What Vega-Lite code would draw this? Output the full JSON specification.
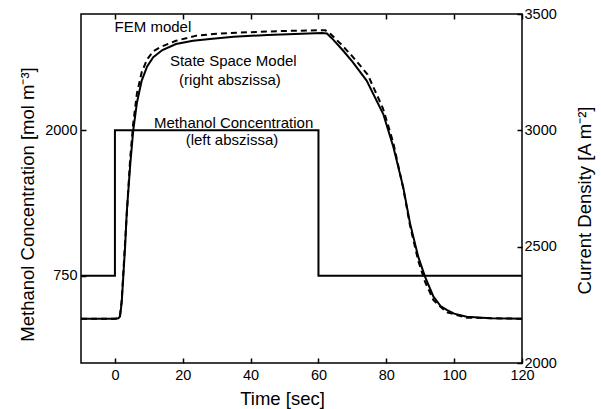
{
  "$schema": "https://vega.github.io/schema/vega-lite/v6.json",
  "width": 441,
  "height": 349,
  "autosize": {"type": "none"},
  "padding": {"left": 81, "top": 14, "right": 79, "bottom": 46},
  "background": "white",
  "config": {
    "font": "Liberation Sans",
    "view": {"stroke": "black", "strokeWidth": 1.5},
    "axis": {"domain": false, "grid": false, "tickColor": "black", "tickWidth": 1.5, "labelColor": "black", "titleColor": "black", "titleFontWeight": "normal", "labelFontSize": 14.5, "titleFontSize": 18.5, "labelFlush": false, "labelOverlap": false, "format": "d"}
  },
  "datasets": {
    "methanol": [
      {"t": -10, "c": 750}, {"t": 0, "c": 2000}, {"t": 60, "c": 750}, {"t": 120, "c": 750}
    ],
    "current": [
      {"model": "State Space", "t": -10, "j": 2190}, {"model": "State Space", "t": 0, "j": 2190}, {"model": "State Space", "t": 1, "j": 2192},
      {"model": "State Space", "t": 1.5, "j": 2200}, {"model": "State Space", "t": 2, "j": 2260}, {"model": "State Space", "t": 3, "j": 2500},
      {"model": "State Space", "t": 3.5, "j": 2650}, {"model": "State Space", "t": 4.5, "j": 2850}, {"model": "State Space", "t": 5.4, "j": 3000},
      {"model": "State Space", "t": 6.5, "j": 3120}, {"model": "State Space", "t": 7.9, "j": 3214}, {"model": "State Space", "t": 9.5, "j": 3275},
      {"model": "State Space", "t": 11.3, "j": 3314}, {"model": "State Space", "t": 14, "j": 3345}, {"model": "State Space", "t": 18, "j": 3371},
      {"model": "State Space", "t": 23, "j": 3385}, {"model": "State Space", "t": 28, "j": 3393}, {"model": "State Space", "t": 35, "j": 3402},
      {"model": "State Space", "t": 45, "j": 3410}, {"model": "State Space", "t": 55, "j": 3415}, {"model": "State Space", "t": 61, "j": 3418},
      {"model": "State Space", "t": 62.5, "j": 3416}, {"model": "State Space", "t": 64, "j": 3395}, {"model": "State Space", "t": 67.3, "j": 3342},
      {"model": "State Space", "t": 70, "j": 3295}, {"model": "State Space", "t": 74.2, "j": 3214}, {"model": "State Space", "t": 79.1, "j": 3070},
      {"model": "State Space", "t": 82.1, "j": 2927}, {"model": "State Space", "t": 85, "j": 2755}, {"model": "State Space", "t": 87, "j": 2600},
      {"model": "State Space", "t": 89.4, "j": 2457}, {"model": "State Space", "t": 91.4, "j": 2371}, {"model": "State Space", "t": 93.9, "j": 2285},
      {"model": "State Space", "t": 96, "j": 2245}, {"model": "State Space", "t": 97.8, "j": 2228}, {"model": "State Space", "t": 100, "j": 2212},
      {"model": "State Space", "t": 103.7, "j": 2199}, {"model": "State Space", "t": 110.6, "j": 2192}, {"model": "State Space", "t": 120, "j": 2190},
      {"model": "FEM", "t": -10, "j": 2190}, {"model": "FEM", "t": 0, "j": 2190}, {"model": "FEM", "t": 1, "j": 2192},
      {"model": "FEM", "t": 1.5, "j": 2205}, {"model": "FEM", "t": 2, "j": 2270}, {"model": "FEM", "t": 3, "j": 2520},
      {"model": "FEM", "t": 4.5, "j": 2880}, {"model": "FEM", "t": 5.4, "j": 3030}, {"model": "FEM", "t": 6.5, "j": 3160},
      {"model": "FEM", "t": 7.9, "j": 3250}, {"model": "FEM", "t": 9.5, "j": 3305}, {"model": "FEM", "t": 11.3, "j": 3340},
      {"model": "FEM", "t": 13.3, "j": 3357}, {"model": "FEM", "t": 18, "j": 3385}, {"model": "FEM", "t": 24, "j": 3407},
      {"model": "FEM", "t": 30, "j": 3415}, {"model": "FEM", "t": 40, "j": 3422}, {"model": "FEM", "t": 50, "j": 3427},
      {"model": "FEM", "t": 60, "j": 3430}, {"model": "FEM", "t": 62, "j": 3430}, {"model": "FEM", "t": 63.5, "j": 3415},
      {"model": "FEM", "t": 67, "j": 3365}, {"model": "FEM", "t": 70, "j": 3318}, {"model": "FEM", "t": 74.5, "j": 3240},
      {"model": "FEM", "t": 79, "j": 3095}, {"model": "FEM", "t": 82, "j": 2950}, {"model": "FEM", "t": 85, "j": 2750},
      {"model": "FEM", "t": 87, "j": 2590}, {"model": "FEM", "t": 89.4, "j": 2440}, {"model": "FEM", "t": 91.4, "j": 2350},
      {"model": "FEM", "t": 93.9, "j": 2270}, {"model": "FEM", "t": 97.8, "j": 2218}, {"model": "FEM", "t": 103.7, "j": 2195},
      {"model": "FEM", "t": 120, "j": 2190}
    ],
    "labels": [
      {"t": 11.2, "j": 3442, "text": "FEM model"},
      {"t": 34.9, "j": 3296, "text": "State Space Model"},
      {"t": 33.9, "j": 3217, "text": "(right abszissa)"},
      {"t": 35, "j": 3032, "text": "Methanol Concentration"},
      {"t": 34.5, "j": 2959, "text": "(left abszissa)"}
    ]
  },
  "layer": [
    {
      "data": {"name": "methanol"},
      "mark": {"type": "line", "interpolate": "step-after", "color": "black", "strokeWidth": 2},
      "encoding": {
        "x": {"field": "t", "type": "quantitative", "scale": {"domain": [-10, 120], "nice": false},
          "axis": {"values": [0, 20, 40, 60, 80, 100, 120], "ticks": false, "labelPadding": 5, "title": "Time [sec]", "titleX": 201, "titleY": 35, "titleBaseline": "middle"}},
        "y": {"field": "c", "type": "quantitative", "scale": {"domain": [0, 3000], "nice": false, "zero": false},
          "axis": {"values": [750, 2000], "ticks": false, "labelPadding": 4, "title": "Methanol Concentration [mol m⁻³]", "titleAngle": -90, "titleX": -54, "titleY": 190, "titleBaseline": "middle", "titleAlign": "center"}}
      }
    },
    {
      "data": {"name": "methanol"},
      "mark": {"type": "line", "opacity": 0},
      "encoding": {
        "x": {"field": "t", "type": "quantitative", "axis": {"orient": "bottom", "offset": -5, "tickSize": 5, "values": [0, 20, 40, 60, 80, 100, 120], "labels": false, "title": null}},
        "y": {"field": "c", "type": "quantitative", "scale": {"domain": [0, 3000], "nice": false, "zero": false},
          "axis": {"orient": "left", "offset": -5, "tickSize": 5, "values": [750, 2000], "labels": false, "title": null}}
      }
    },
    {
      "data": {"name": "current"},
      "mark": {"type": "line", "opacity": 0},
      "encoding": {
        "x": {"field": "t", "type": "quantitative", "axis": {"orient": "top", "offset": -5, "tickSize": 5, "values": [0, 20, 40, 60, 80, 100, 120], "labels": false, "title": null}},
        "y": {"field": "j", "type": "quantitative", "scale": {"domain": [2000, 3500], "nice": false, "zero": false},
          "axis": {"orient": "right", "offset": -5, "tickSize": 5, "values": [2000, 2500, 3000, 3500], "labels": false, "title": null}}
      }
    },
    {
      "layer": [
        {
          "data": {"name": "current"},
          "transform": [{"filter": "datum.model == 'FEM'"}],
          "mark": {"type": "line", "color": "black", "strokeWidth": 2, "strokeDash": [6, 4]},
          "encoding": {
            "x": {"field": "t", "type": "quantitative", "axis": null},
            "y": {"field": "j", "type": "quantitative", "scale": {"domain": [2000, 3500], "nice": false, "zero": false},
              "axis": {"orient": "right", "values": [2000, 2500, 3000, 3500], "ticks": false, "labelPadding": 2, "title": "Current Density [A m⁻²]", "titleAngle": -90, "titleX": 62, "titleY": 186, "titleBaseline": "middle", "titleAlign": "center"}}
          }
        },
        {
          "data": {"name": "current"},
          "transform": [{"filter": "datum.model == 'State Space'"}],
          "mark": {"type": "line", "color": "black", "strokeWidth": 2},
          "encoding": {
            "x": {"field": "t", "type": "quantitative", "axis": null},
            "y": {"field": "j", "type": "quantitative"}
          }
        },
        {
          "data": {"name": "labels"},
          "mark": {"type": "text", "fontSize": 15, "color": "black", "align": "center", "baseline": "middle", "dy": 0},
          "encoding": {
            "x": {"field": "t", "type": "quantitative", "axis": null},
            "y": {"field": "j", "type": "quantitative"},
            "text": {"field": "text"}
          }
        }
      ]
    }
  ],
  "resolve": {"scale": {"y": "independent"}, "axis": {"x": "independent", "y": "independent"}}
}
